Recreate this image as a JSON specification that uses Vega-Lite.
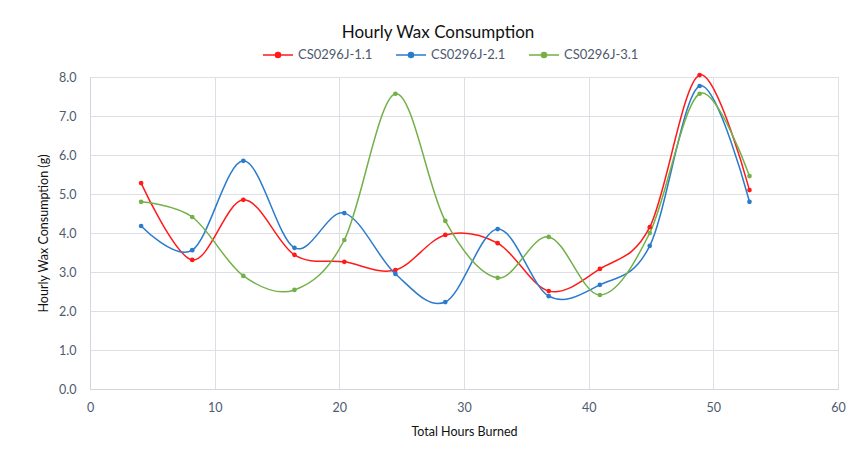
{
  "$schema": "https://vega.github.io/schema/vega-lite/v6.json",
  "width": 748,
  "height": 312,
  "autosize": "none",
  "padding": {"left": 90, "top": 77, "right": 14, "bottom": 60},
  "background": "white",
  "config": {
    "font": "Lato",
    "view": {"stroke": null},
    "axis": {"gridColor": "#DCDFE6", "domainColor": "#D0D5DE", "labelColor": "#4E5A6E", "labelFontSize": 12.5, "titleColor": "#111111", "titleFontSize": 12.5, "titleFontWeight": "normal", "ticks": false, "labelFlush": false}
  },
  "title": {"text": "Hourly Wax Consumption", "fontSize": 17, "fontWeight": "normal", "color": "#111111", "anchor": "middle", "dx": -26, "offset": -3, "font": "Lato"},
  "data": {"values": [
    {"h": 4.1, "v": 5.28, "s": "CS0296J-1.1"},
    {"h": 8.2, "v": 3.31, "s": "CS0296J-1.1"},
    {"h": 12.3, "v": 4.85, "s": "CS0296J-1.1"},
    {"h": 16.4, "v": 3.44, "s": "CS0296J-1.1"},
    {"h": 20.4, "v": 3.26, "s": "CS0296J-1.1"},
    {"h": 24.5, "v": 3.05, "s": "CS0296J-1.1"},
    {"h": 28.5, "v": 3.95, "s": "CS0296J-1.1"},
    {"h": 32.7, "v": 3.74, "s": "CS0296J-1.1"},
    {"h": 36.8, "v": 2.51, "s": "CS0296J-1.1"},
    {"h": 40.9, "v": 3.08, "s": "CS0296J-1.1"},
    {"h": 44.9, "v": 4.15, "s": "CS0296J-1.1"},
    {"h": 48.9, "v": 8.05, "s": "CS0296J-1.1"},
    {"h": 52.9, "v": 5.10, "s": "CS0296J-1.1"},
    {"h": 4.1, "v": 4.18, "s": "CS0296J-2.1"},
    {"h": 8.2, "v": 3.56, "s": "CS0296J-2.1"},
    {"h": 12.3, "v": 5.85, "s": "CS0296J-2.1"},
    {"h": 16.4, "v": 3.62, "s": "CS0296J-2.1"},
    {"h": 20.4, "v": 4.51, "s": "CS0296J-2.1"},
    {"h": 24.5, "v": 2.95, "s": "CS0296J-2.1"},
    {"h": 28.5, "v": 2.23, "s": "CS0296J-2.1"},
    {"h": 32.7, "v": 4.10, "s": "CS0296J-2.1"},
    {"h": 36.8, "v": 2.38, "s": "CS0296J-2.1"},
    {"h": 40.9, "v": 2.67, "s": "CS0296J-2.1"},
    {"h": 44.9, "v": 3.67, "s": "CS0296J-2.1"},
    {"h": 48.9, "v": 7.77, "s": "CS0296J-2.1"},
    {"h": 52.9, "v": 4.80, "s": "CS0296J-2.1"},
    {"h": 4.1, "v": 4.80, "s": "CS0296J-3.1"},
    {"h": 8.2, "v": 4.41, "s": "CS0296J-3.1"},
    {"h": 12.3, "v": 2.90, "s": "CS0296J-3.1"},
    {"h": 16.4, "v": 2.54, "s": "CS0296J-3.1"},
    {"h": 20.4, "v": 3.82, "s": "CS0296J-3.1"},
    {"h": 24.5, "v": 7.57, "s": "CS0296J-3.1"},
    {"h": 28.5, "v": 4.31, "s": "CS0296J-3.1"},
    {"h": 32.7, "v": 2.85, "s": "CS0296J-3.1"},
    {"h": 36.8, "v": 3.90, "s": "CS0296J-3.1"},
    {"h": 40.9, "v": 2.41, "s": "CS0296J-3.1"},
    {"h": 44.9, "v": 4.00, "s": "CS0296J-3.1"},
    {"h": 48.9, "v": 7.57, "s": "CS0296J-3.1"},
    {"h": 52.9, "v": 5.46, "s": "CS0296J-3.1"}
  ]},
  "encoding": {
    "x": {"field": "h", "type": "quantitative", "scale": {"domain": [0, 60], "nice": false}, "axis": {"values": [0, 10, 20, 30, 40, 50, 60], "title": "Total Hours Burned", "labelPadding": 12, "titlePadding": 12}},
    "y": {"field": "v", "type": "quantitative", "scale": {"domain": [0, 8], "nice": false}, "axis": {"values": [0, 1, 2, 3, 4, 5, 6, 7, 8], "format": ".1f", "title": "Hourly Wax Consumption (g)", "labelPadding": 14, "titlePadding": 8}},
    "color": {"field": "s", "type": "nominal", "scale": {"domain": ["CS0296J-1.1", "CS0296J-2.1", "CS0296J-3.1"], "range": ["#FF1A1A", "#2A7BCB", "#72B048"]},
      "legend": {"title": null, "orient": "none", "legendX": 172, "legendY": -38, "direction": "horizontal", "columnPadding": 20, "labelFontSize": 13, "labelColor": "#4E5A6E", "symbolType": "M-1,0H1M-0.17,0A0.17,0.17,0,1,1,0.17,0A0.17,0.17,0,1,1,-0.17,0Z", "symbolSize": 900, "symbolStrokeWidth": 1.5, "labelOffset": 4}}
  },
  "layer": [
    {"mark": {"type": "line", "interpolate": "cardinal", "strokeWidth": 1.5}},
    {"mark": {"type": "point", "filled": true, "size": 22, "opacity": 1}}
  ]
}
